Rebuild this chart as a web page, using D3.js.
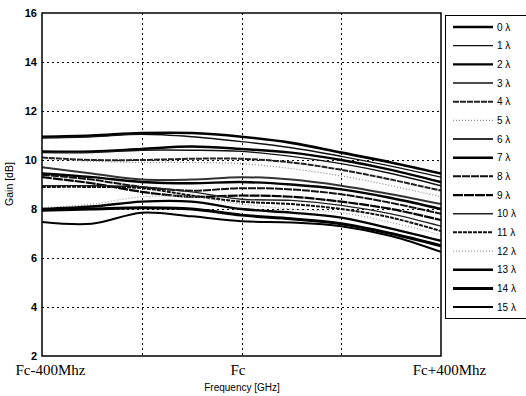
<!DOCTYPE html>
<html>
<head>
<meta charset="utf-8">
<script src="https://cdn.jsdelivr.net/npm/d3@7"></script>
<style>
  html, body { margin: 0; padding: 0; background: #fff; }
  svg { display: block; }
  text { fill: #000; }
</style>
</head>
<body>
<svg id="chart" width="526" height="396"></svg>
<script>
// Frequency offsets from the carrier (MHz)
const freqOffsets = [-400, -300, -200, -100, 0, 100, 200, 300, 400];
const xTickValues = [-400, 0, 400];
const xTickLabels = ["Fc-400Mhz", "Fc", "Fc+400Mhz"];
const yTicks = [2, 4, 6, 8, 10, 12, 14, 16];
const seriesNames = ["0 λ","1 λ","2 λ","3 λ","4 λ","5 λ","6 λ","7 λ","8 λ","9 λ","10 λ","11 λ","12 λ","13 λ","14 λ","15 λ"];

// Gain (dB) of each series at the offsets above
const gain0  = [10.95, 11.00, 11.10, 11.10, 10.95, 10.70, 10.30, 9.90, 9.45];
const gain1  = [10.90, 10.95, 11.05, 10.95, 10.75, 10.50, 10.15, 9.75, 9.30];
const gain2  = [10.35, 10.35, 10.45, 10.55, 10.45, 10.30, 10.00, 9.60, 9.10];
const gain3  = [10.30, 10.30, 10.40, 10.40, 10.35, 10.15, 9.85, 9.45, 8.95];
const gain4  = [10.10, 10.00, 10.00, 10.05, 10.05, 9.90, 9.60, 9.20, 8.75];
const gain5  = [10.05, 9.95, 9.90, 9.90, 9.85, 9.65, 9.35, 8.95, 8.50];
const gain6  = [9.70, 9.45, 9.20, 9.20, 9.30, 9.20, 8.95, 8.60, 8.20];
const gain7  = [9.45, 9.30, 9.10, 9.05, 9.10, 9.00, 8.80, 8.45, 8.00];
const gain8  = [9.40, 9.20, 8.90, 8.75, 8.85, 8.80, 8.60, 8.25, 7.80];
const gain9  = [9.30, 9.05, 8.70, 8.50, 8.55, 8.50, 8.30, 8.00, 7.55];
const gain10 = [8.95, 8.95, 8.90, 8.70, 8.40, 8.35, 8.15, 7.80, 7.30];
const gain11 = [8.90, 8.90, 8.85, 8.55, 8.30, 8.20, 8.00, 7.65, 7.10];
const gain12 = [8.05, 8.20, 8.50, 8.50, 8.20, 8.00, 7.85, 7.45, 6.95];
const gain13 = [8.00, 8.10, 8.30, 8.30, 8.00, 7.85, 7.65, 7.20, 6.70];
const gain14 = [7.95, 8.00, 8.05, 8.00, 7.75, 7.60, 7.40, 7.00, 6.50];
const gain15 = [7.47, 7.40, 7.85, 7.70, 7.50, 7.45, 7.30, 6.90, 6.25];
const gains = [gain0, gain1, gain2, gain3, gain4, gain5, gain6, gain7,
               gain8, gain9, gain10, gain11, gain12, gain13, gain14, gain15];

// Line appearance for each series
const styles = [
  {c: "#000", w: 2.6, d: null},
  {c: "#111", w: 1.4, d: null},
  {c: "#000", w: 2.4, d: null},
  {c: "#111", w: 1.4, d: null},
  {c: "#222", w: 2.0, d: "6,1"},
  {c: "#888", w: 1.2, d: "1,2"},
  {c: "#333", w: 2.0, d: null},
  {c: "#000", w: 2.4, d: null},
  {c: "#111", w: 2.0, d: "8,1"},
  {c: "#000", w: 2.2, d: "10,1"},
  {c: "#222", w: 1.4, d: null},
  {c: "#111", w: 2.0, d: "4,1"},
  {c: "#999", w: 1.2, d: "1,2"},
  {c: "#000", w: 2.4, d: null},
  {c: "#000", w: 3.0, d: null},
  {c: "#000", w: 2.0, d: null}
];

const svg = d3.select("#chart");
const plot = {left: 42, top: 13, right: 441, bottom: 356};

const x = d3.scaleLinear().domain([-400, 400]).range([plot.left, plot.right]);
const y = d3.scaleLinear().domain([2, 16]).range([plot.bottom, plot.top]);

svg.append("defs").append("clipPath").attr("id", "clip")
  .append("rect")
  .attr("x", plot.left).attr("y", plot.top)
  .attr("width", plot.right - plot.left).attr("height", plot.bottom - plot.top);

// dotted grid
const grid = svg.append("g").attr("stroke", "#000").attr("stroke-width", 1)
  .attr("stroke-dasharray", "2,3");
grid.selectAll("line.h").data(yTicks.slice(1, -1)).enter().append("line")
  .attr("x1", plot.left).attr("x2", plot.right)
  .attr("y1", d => Math.round(y(d)) + 0.5).attr("y2", d => Math.round(y(d)) + 0.5);
grid.selectAll("line.v").data([-200, 0, 200]).enter().append("line")
  .attr("y1", plot.top).attr("y2", plot.bottom)
  .attr("x1", d => Math.round(x(d)) + 0.5).attr("x2", d => Math.round(x(d)) + 0.5);

// gain curves
const line = d3.line()
  .x((d, i) => x(freqOffsets[i]))
  .y(d => y(d))
  .curve(d3.curveCatmullRom.alpha(0.5));

svg.append("g").attr("clip-path", "url(#clip)")
  .selectAll("path").data(gains).enter().append("path")
  .attr("d", line)
  .attr("fill", "none")
  .attr("stroke", (d, i) => styles[i].c)
  .attr("stroke-width", (d, i) => styles[i].w)
  .attr("stroke-dasharray", (d, i) => styles[i].d)
  .attr("stroke-linejoin", "round");

// plot frame
svg.append("rect")
  .attr("x", plot.left).attr("y", plot.top)
  .attr("width", plot.right - plot.left).attr("height", plot.bottom - plot.top)
  .attr("fill", "none").attr("stroke", "#000").attr("stroke-width", 1.5);

// y axis
const yAxis = svg.append("g")
  .attr("transform", `translate(${plot.left},0)`)
  .call(d3.axisLeft(y).tickValues(yTicks).tickSize(0).tickPadding(5));
yAxis.select(".domain").remove();
yAxis.selectAll("text")
  .style("font-family", "'Liberation Sans', Arial, sans-serif")
  .style("font-size", "11px").style("font-weight", "bold");

// x axis
const xAxis = svg.append("g")
  .attr("transform", `translate(0,${plot.bottom})`)
  .call(d3.axisBottom(x).tickValues(xTickValues)
    .tickFormat((d, i) => xTickLabels[i]).tickSize(0).tickPadding(8));
xAxis.select(".domain").remove();
xAxis.selectAll("text")
  .style("font-family", "'Liberation Serif', 'Times New Roman', serif")
  .style("font-size", "15px")
  .attr("dx", (d, i) => [8, -4, 8][i]);

// axis titles
svg.append("text")
  .attr("x", 242).attr("y", 391)
  .attr("text-anchor", "middle")
  .style("font-family", "'Liberation Sans', Arial, sans-serif")
  .style("font-size", "10px")
  .text("Frequency [GHz]");

svg.append("text")
  .attr("transform", "translate(13,184) rotate(-90)")
  .attr("text-anchor", "middle")
  .style("font-family", "'Liberation Sans', Arial, sans-serif")
  .style("font-size", "10.5px")
  .text("Gain [dB]");

// legend
const legend = svg.append("g");
legend.append("rect")
  .attr("x", 445.5).attr("y", 15.5).attr("width", 90).attr("height", 303)
  .attr("fill", "#fff").attr("stroke", "#000").attr("stroke-width", 1);

const rowY = i => 27 + i * 18.67;
const item = legend.selectAll("g.item").data(seriesNames).enter().append("g");
item.append("line")
  .attr("x1", 453).attr("x2", 493)
  .attr("y1", (d, i) => rowY(i)).attr("y2", (d, i) => rowY(i))
  .attr("stroke", (d, i) => styles[i].c)
  .attr("stroke-width", (d, i) => styles[i].w)
  .attr("stroke-dasharray", (d, i) => styles[i].d);
item.append("text")
  .attr("x", 497).attr("y", (d, i) => rowY(i))
  .attr("dy", "0.35em")
  .style("font-family", "'Liberation Sans', Arial, sans-serif")
  .style("font-size", "10px")
  .text(d => d);
</script>
</body>
</html>
